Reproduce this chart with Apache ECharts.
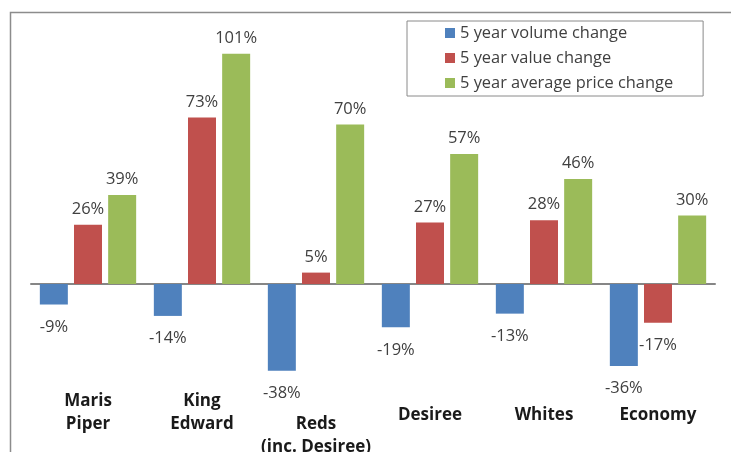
<!DOCTYPE html>
<html>
<head>
<meta charset="utf-8">
<script src="https://cdn.jsdelivr.net/npm/echarts@6/dist/echarts.min.js"></script>
<style>
  html, body { margin: 0; padding: 0; background: #fff; }
  #chart { width: 731px; height: 452px; }
</style>
</head>
<body>
<div id="chart"></div>
<script>
// 品种分类
const categories = ['Maris\nPiper', 'King\nEdward', 'Reds\n(inc. Desiree)', 'Desiree', 'Whites', 'Economy'];
// 各系列数值 (%)
const volumeChange = [-9, -14, -38, -19, -13, -36];
const valueChange = [26, 73, 5, 27, 28, -17];
const priceChange = [39, 101, 70, 57, 46, 30];
const seriesNames = ['5 year volume change', '5 year value change', '5 year average price change'];

// 标签下移量（单行居中，Reds 下移一行）
const labelPad = [0, 0, 23, 14, 14, 14];

const colors = ['#4F81BD', '#C0504D', '#9BBB59'];
const font = '"Open Sans", "DejaVu Sans", sans-serif';

const chart = echarts.init(document.getElementById('chart'));

function makeSeries(name, data, color) {
    return {
        name: name,
        type: 'bar',
        // 负值标签离柱子稍远一点
        data: data.map(v => ({ value: v, label: { distance: v < 0 ? 14 : 7 } })),
        barWidth: 28,
        barGap: '22%',
        itemStyle: { color: color },
        label: {
            show: true,
            position: 'outside',
            formatter: p => p.value + '%',
            color: '#404040',
            fontFamily: font,
            fontSize: 16.5
        }
    };
}

chart.setOption({
    animation: false,
    legend: {
        orient: 'vertical',
        left: 407,
        top: 21,
        itemWidth: 10,
        itemHeight: 10,
        itemGap: 5,
        icon: 'rect',
        padding: [2, 30, 3, 38],
        borderColor: '#8a8a8a',
        borderWidth: 1,
        textStyle: { color: '#404040', fontFamily: font, fontSize: 16.4, lineHeight: 20 },
        data: seriesNames
    },
    grid: { left: 31, right: 16, top: 33.2, bottom: 76.8, outerBoundsMode: 'none', containLabel: false },
    xAxis: [
        {
            type: 'category',
            data: categories.map((c, i) => ({ value: c, textStyle: { padding: [labelPad[i], 0, 0, 0] } })),
            position: 'bottom',
            axisLine: { show: false, onZero: false },
            axisTick: { show: false },
            axisLabel: {
                interval: 0,
                margin: 14,
                color: '#1a1a1a',
                fontFamily: font,
                fontWeight: 'bold',
                fontSize: 17,
                lineHeight: 23
            }
        },
        {
            type: 'category',
            data: categories,
            position: 'top',
            axisLine: { show: true, onZero: true, lineStyle: { color: '#868686', width: 2 } },
            axisTick: { show: false },
            axisLabel: { show: false }
        }
    ],
    yAxis: {
        type: 'value',
        min: -40,
        max: 110,
        show: false,
        splitLine: { show: false }
    },
    graphic: [
        {
            type: 'polyline',
            silent: true,
            shape: { points: [[10.5, 452], [10.5, 12.5], [731, 12.5]] },
            style: { stroke: '#8c8c8c', lineWidth: 1.5, fill: null }
        }
    ],
    series: [
        makeSeries(seriesNames[0], volumeChange, colors[0]),
        makeSeries(seriesNames[1], valueChange, colors[1]),
        makeSeries(seriesNames[2], priceChange, colors[2])
    ]
});
</script>
</body>
</html>
